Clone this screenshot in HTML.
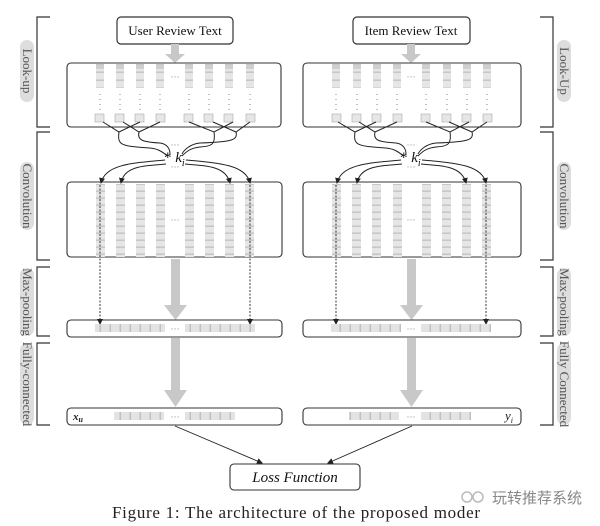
<!DOCTYPE html>
<html><head><meta charset="utf-8"><style>
html,body{margin:0;padding:0;background:#fff;}
svg{display:block}
</style></head><body>
<svg width="600" height="526" viewBox="0 0 600 526" xmlns="http://www.w3.org/2000/svg" font-family="Liberation Serif, serif">
<defs>
<pattern id="vc" patternUnits="userSpaceOnUse" width="200" height="8" y="0">
<rect x="-1" y="0.5" width="400" height="7.5" fill="#e6e6e6" stroke="#aaa" stroke-width="0.6"/>
</pattern>
<pattern id="vc2" patternUnits="userSpaceOnUse" width="200" height="7" y="184">
<rect x="-1" y="0.5" width="400" height="6.5" fill="#e6e6e6" stroke="#aaa" stroke-width="0.6"/>
</pattern>
<pattern id="hc" patternUnits="userSpaceOnUse" width="10" height="50" x="0">
<rect x="0.3" y="-1" width="9.7" height="100" fill="#e3e3e3" stroke="#aaa" stroke-width="0.6"/>
</pattern>
<marker id="ah" markerWidth="6" markerHeight="6" refX="5" refY="3" orient="auto" markerUnits="userSpaceOnUse">
<path d="M0,0 L6,3 L0,6 z" fill="#222"/>
</marker>
</defs>

<g stroke="#333" stroke-width="1.2" fill="none">
<path d="M50,17 H37 V127 H50"/>
<path d="M50,132 H37 V260 H50"/>
<path d="M50,267 H37 V336 H50"/>
<path d="M50,343 H37 V425 H50"/>
<path d="M540,17 H553 V127 H540"/>
<path d="M540,132 H553 V260 H540"/>
<path d="M540,267 H553 V336 H540"/>
<path d="M540,343 H553 V425 H540"/>
</g>
<g fill="#ddd">
<rect x="20" y="40" width="14" height="62" rx="7"/>
<rect x="20" y="162" width="14" height="68" rx="7"/>
<rect x="20" y="268" width="14" height="68" rx="7"/>
<rect x="20" y="343" width="14" height="82" rx="7"/>
<rect x="557" y="40" width="14" height="62" rx="7"/>
<rect x="557" y="162" width="14" height="68" rx="7"/>
<rect x="557" y="268" width="14" height="68" rx="7"/>
<rect x="557" y="343" width="14" height="82" rx="7"/>
</g>
<g font-size="13" fill="#555" text-anchor="middle">
<text transform="translate(23,71) rotate(90)">Look-up</text>
<text transform="translate(23,196) rotate(90)">Convolution</text>
<text transform="translate(23,302) rotate(90)">Max-pooling</text>
<text transform="translate(23,384) rotate(90)">Fully-connected</text>
<text transform="translate(560,71) rotate(90)">Look-Up</text>
<text transform="translate(560,196) rotate(90)">Convolution</text>
<text transform="translate(560,302) rotate(90)">Max-pooling</text>
<text transform="translate(560,384) rotate(90)">Fully Connected</text>
</g>

<g stroke="#333" stroke-width="1.2" fill="#fff">
<rect x="117" y="17" width="116" height="27" rx="4"/>
<rect x="353" y="17" width="117" height="27" rx="4"/>
</g>
<g font-size="13" fill="#111" text-anchor="middle">
<text x="175" y="35">User Review Text</text>
<text x="411" y="35">Item Review Text</text>
</g>

<g fill="#c8c8c8">
<rect x="171" y="44" width="8" height="10"/><path d="M165,54 H185 L175,63 z"/>
<rect x="407" y="44" width="8" height="10"/><path d="M401,54 H421 L411,63 z"/>
<rect x="171" y="259" width="9" height="48"/><path d="M164,305 H187 L175.5,320 z"/>
<rect x="171" y="338" width="9" height="54"/><path d="M164,390 H187 L175.5,407 z"/>
<rect x="407" y="259" width="9" height="48"/><path d="M400,305 H423 L411.5,320 z"/>
<rect x="407" y="338" width="9" height="54"/><path d="M400,390 H423 L411.5,407 z"/>
</g>

<g stroke="#333" stroke-width="1.1" fill="#fff">
<rect x="67" y="63" width="214" height="64" rx="4"/>
<rect x="303" y="63" width="218" height="64" rx="4"/>
<rect x="67" y="182" width="215" height="75" rx="4"/>
<rect x="303" y="182" width="218" height="75" rx="4"/>
<rect x="67" y="320" width="215" height="17" rx="4"/>
<rect x="303" y="320" width="218" height="17" rx="4"/>
<rect x="67" y="408" width="215" height="17" rx="4"/>
<rect x="303" y="408" width="218" height="17" rx="4"/>
</g>

<g>
<g fill="url(#vc)">
<rect x="96" y="64" width="8" height="24"/><rect x="116" y="64" width="8" height="24"/>
<rect x="136" y="64" width="8" height="24"/><rect x="156" y="64" width="8" height="24"/>
<rect x="185" y="64" width="8" height="24"/><rect x="205" y="64" width="8" height="24"/>
<rect x="225" y="64" width="8" height="24"/><rect x="246" y="64" width="8" height="24"/>
<rect x="332" y="64" width="8" height="24"/><rect x="353" y="64" width="8" height="24"/>
<rect x="373" y="64" width="8" height="24"/><rect x="393" y="64" width="8" height="24"/>
<rect x="422" y="64" width="8" height="24"/><rect x="443" y="64" width="8" height="24"/>
<rect x="463" y="64" width="8" height="24"/><rect x="483" y="64" width="8" height="24"/>
</g>
<g fill="#cfcfcf">
<rect x="96" y="65" width="8" height="4"/><rect x="116" y="65" width="8" height="4"/>
<rect x="136" y="65" width="8" height="4"/><rect x="156" y="65" width="8" height="4"/>
<rect x="185" y="65" width="8" height="4"/><rect x="205" y="65" width="8" height="4"/>
<rect x="225" y="65" width="8" height="4"/><rect x="246" y="65" width="8" height="4"/>
<rect x="332" y="65" width="8" height="4"/><rect x="353" y="65" width="8" height="4"/>
<rect x="373" y="65" width="8" height="4"/><rect x="393" y="65" width="8" height="4"/>
<rect x="422" y="65" width="8" height="4"/><rect x="443" y="65" width="8" height="4"/>
<rect x="463" y="65" width="8" height="4"/><rect x="483" y="65" width="8" height="4"/>
</g>
<g fill="#e6e6e6" stroke="#aaa" stroke-width="0.6">
<rect x="95" y="114" width="9" height="8"/><rect x="115" y="114" width="9" height="8"/>
<rect x="135" y="114" width="9" height="8"/><rect x="156" y="114" width="9" height="8"/>
<rect x="184" y="114" width="9" height="8"/><rect x="204" y="114" width="9" height="8"/>
<rect x="224" y="114" width="9" height="8"/><rect x="246" y="114" width="9" height="8"/>
<rect x="332" y="114" width="9" height="8"/><rect x="352" y="114" width="9" height="8"/>
<rect x="372" y="114" width="9" height="8"/><rect x="393" y="114" width="9" height="8"/>
<rect x="421" y="114" width="9" height="8"/><rect x="442" y="114" width="9" height="8"/>
<rect x="462" y="114" width="9" height="8"/><rect x="483" y="114" width="9" height="8"/>
</g>
<g stroke="#666" stroke-width="0.8" stroke-dasharray="1 4">
<path d="M100,94 V110 M120,94 V110 M140,94 V110 M160,94 V110 M189,94 V110 M209,94 V110 M229,94 V110 M250,94 V110"/>
<path d="M336,94 V110 M357,94 V110 M377,94 V110 M397,94 V110 M426,94 V110 M447,94 V110 M467,94 V110 M487,94 V110"/>
</g>
</g>
<g font-size="9" fill="#888" text-anchor="middle">
<text x="175" y="80">···</text><text x="411" y="80">···</text>
<text x="175" y="223">···</text><text x="411" y="223">···</text>
<text x="175" y="148">···</text><text x="411" y="148">···</text>
<text x="175" y="170">···</text><text x="411" y="170">···</text>
<text x="175" y="332">···</text><text x="411" y="332">···</text>
<text x="175" y="420">···</text><text x="411" y="420">···</text>
</g>

<g fill="url(#vc2)">
<rect x="96" y="184" width="9" height="73"/><rect x="116" y="184" width="9" height="73"/>
<rect x="136" y="184" width="9" height="73"/><rect x="156" y="184" width="9" height="73"/>
<rect x="185" y="184" width="9" height="73"/><rect x="205" y="184" width="9" height="73"/>
<rect x="225" y="184" width="9" height="73"/><rect x="245" y="184" width="9" height="73"/>
<rect x="332" y="184" width="9" height="73"/><rect x="352" y="184" width="9" height="73"/>
<rect x="372" y="184" width="9" height="73"/><rect x="393" y="184" width="9" height="73"/>
<rect x="422" y="184" width="9" height="73"/><rect x="442" y="184" width="9" height="73"/>
<rect x="462" y="184" width="9" height="73"/><rect x="482" y="184" width="9" height="73"/>
</g>

<g stroke="#222" stroke-width="1" fill="none">
<path d="M103,122 L119,132 L140,122 M123,122 L139,132 L160,122"/>
<path d="M189,122 L214,132 L233,122 M213,122 L236,132 L250,122"/>
<path d="M119,132 C117,146 122,146 150,148 C160,149 163,153 168,156"/>
<path d="M139,132 C137,140 142,142 160,143 C168,144 170,150 170,154"/>
<path d="M214,132 C216,146 210,146 200,147 C190,148 186,152 182,156"/>
<path d="M236,132 C238,140 232,142 200,143 C190,144 184,150 182,154"/>
<path d="M338,122 L355,132 L376,122 M359,122 L375,132 L397,122"/>
<path d="M426,122 L450,132 L469,122 M449,122 L472,132 L487,122"/>
<path d="M355,132 C353,146 358,146 386,148 C396,149 399,153 404,156"/>
<path d="M375,132 C373,140 378,142 396,143 C404,144 406,150 406,154"/>
<path d="M450,132 C452,146 446,146 436,147 C426,148 422,152 418,156"/>
<path d="M472,132 C474,140 468,142 436,143 C426,144 420,150 418,154"/>
</g>
<g stroke="#222" stroke-width="1" fill="none" marker-end="url(#ah)">
<path d="M165,160 C130,163 105,165 101,183"/>
<path d="M166,164 C140,166 124,167 121,183"/>
<path d="M186,160 C220,163 246,165 250,183"/>
<path d="M185,164 C210,166 226,167 230,183"/>
<path d="M401,160 C366,163 341,165 337,183"/>
<path d="M402,164 C376,166 360,167 357,183"/>
<path d="M422,160 C456,163 482,165 486,183"/>
<path d="M421,164 C446,166 462,167 466,183"/>
</g>
<g font-size="15" fill="#111">
<text x="164" y="162">* <tspan font-style="italic">k</tspan><tspan font-size="10" font-style="italic" dy="4">i</tspan></text>
<text x="400" y="162">* <tspan font-style="italic">k</tspan><tspan font-size="10" font-style="italic" dy="4">i</tspan></text>
</g>

<g stroke="#222" stroke-width="0.9" stroke-dasharray="2 1.5" marker-end="url(#ah)">
<line x1="100" y1="185" x2="100" y2="324"/>
<line x1="250" y1="185" x2="250" y2="324"/>
<line x1="336" y1="185" x2="336" y2="324"/>
<line x1="486" y1="185" x2="486" y2="324"/>
</g>

<g fill="url(#hc)">
<rect x="95" y="324" width="70" height="8"/>
<rect x="185" y="324" width="70" height="8"/>
<rect x="331" y="324" width="70" height="8"/>
<rect x="421" y="324" width="70" height="8"/>
<rect x="114" y="412" width="50" height="8"/>
<rect x="185" y="412" width="50" height="8"/>
<rect x="349" y="412" width="50" height="8"/>
<rect x="421" y="412" width="50" height="8"/>
</g>
<text x="73" y="420" font-size="11" font-style="italic" font-weight="bold" fill="#222">x<tspan font-size="8" dy="2">u</tspan></text>
<text x="505" y="420" font-size="13" font-style="italic" fill="#222">y<tspan font-size="8" dy="3">i</tspan></text>

<g stroke="#222" stroke-width="0.9" marker-end="url(#ah)">
<line x1="175" y1="426" x2="262" y2="463"/>
<line x1="412" y1="426" x2="328" y2="463"/>
</g>
<rect x="230" y="464" width="130" height="26" rx="4" fill="#fff" stroke="#333" stroke-width="1.1"/>
<text x="295" y="482" font-size="15" font-style="italic" text-anchor="middle" fill="#111">Loss Function</text>

<text x="112" y="518" font-size="17" fill="#222" textLength="368" lengthAdjust="spacing">Figure 1: The architecture of the proposed moder</text>
<g>
<circle cx="467" cy="497" r="5" fill="none" stroke="#bbb" stroke-width="1.5"/>
<circle cx="478" cy="497" r="5" fill="none" stroke="#bbb" stroke-width="1.5"/>
</g>
<text x="492" y="503" font-size="15" fill="#888" font-family="Liberation Sans, Noto Sans CJK SC, sans-serif">玩转推荐系统</text>
</svg>
</body></html>
